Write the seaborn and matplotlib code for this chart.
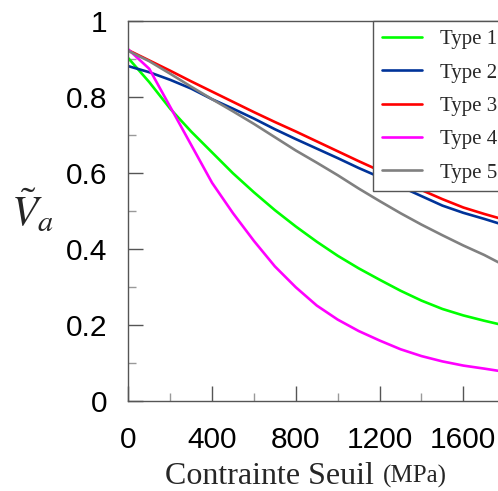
import numpy as np
import pandas as pd
import matplotlib
matplotlib.use("Agg")
import matplotlib.pyplot as plt
from matplotlib.ticker import MultipleLocator
import seaborn as sns

# seuil (MPa)
seuil = [0, 100, 200, 300, 400, 500, 600, 700, 800, 900,
         1000, 1100, 1200, 1300, 1400, 1500, 1600, 1700, 1770]

type1 = [0.903, 0.84, 0.77, 0.71, 0.655, 0.6, 0.55, 0.503, 0.46, 0.42,
         0.383, 0.35, 0.32, 0.291, 0.265, 0.243, 0.226, 0.212, 0.203]
type2 = [0.882, 0.866, 0.846, 0.823, 0.795, 0.77, 0.744, 0.716, 0.69, 0.665,
         0.64, 0.614, 0.59, 0.565, 0.54, 0.515, 0.496, 0.48, 0.468]
type3 = [0.924, 0.897, 0.87, 0.842, 0.815, 0.788, 0.761, 0.735, 0.71, 0.684,
         0.658, 0.632, 0.607, 0.581, 0.556, 0.532, 0.51, 0.493, 0.482]
type4 = [0.926, 0.875, 0.775, 0.675, 0.575, 0.495, 0.422, 0.355, 0.30, 0.252,
         0.215, 0.185, 0.16, 0.137, 0.119, 0.105, 0.094, 0.086, 0.08]
type5 = [0.922, 0.895, 0.862, 0.828, 0.795, 0.763, 0.73, 0.695, 0.66, 0.628,
         0.595, 0.56, 0.527, 0.495, 0.465, 0.437, 0.41, 0.385, 0.365]

labels = ["Type 1", "Type 2", "Type 3", "Type 4", "Type 5"]
colors = ["#00FF00", "#003399", "#FF0000", "#FF00FF", "#808080"]

df = pd.concat([
    pd.DataFrame({"seuil": seuil, "Va": v, "Type": lab})
    for v, lab in zip([type1, type2, type3, type4, type5], labels)
])

sns.set_style("white")
plt.rcParams["font.family"] = ["Liberation Sans", "DejaVu Sans"]
plt.rcParams["mathtext.fontset"] = "stix"

fig = plt.figure(figsize=(4.98, 4.91), dpi=100)
W, H = 498, 491
x0, y0 = 128.3, 401.3          # pixel position of (0, 0)
px_per_mpa = 0.2094
xmax = 1800
ax = fig.add_axes([x0 / W, (H - y0) / H, xmax * px_per_mpa / W, 380 / H])

sns.lineplot(data=df, x="seuil", y="Va", hue="Type", palette=dict(zip(labels, colors)),
             linewidth=1.9, ax=ax, legend=False)

ax.set_xlim(0, xmax)
ax.set_ylim(0, 1)
ax.xaxis.set_minor_locator(MultipleLocator(200))
ax.yaxis.set_minor_locator(MultipleLocator(0.1))
ax.set_yticks([0, 0.2, 0.4, 0.6, 0.8, 1.0], ["0", "0.2", "0.4", "0.6", "0.8", "1"])
ax.set_xticks([0, 400, 800, 1200, 1600])

ax.tick_params(which="major", direction="in", length=11, width=1, color="#555555",
               labelsize=21.5, labelcolor="black")
ax.tick_params(which="minor", direction="in", length=6, width=1, color="#999999")
ax.tick_params(axis="x", which="both", pad=18, bottom=True)
ax.tick_params(axis="y", which="both", pad=15, left=True)
for s in ["left", "bottom", "top"]:
    ax.spines[s].set_color("#555555")
    ax.spines[s].set_linewidth(1)
ax.spines["right"].set_visible(False)
ax.set_xlabel("")
ax.set_ylabel("")

fig.text(33 / W, (H - 212) / H, r"$\tilde{V}_a$", fontsize=31, ha="center", va="center")
fig.text(165 / W, (H - 484) / H, "Contrainte Seuil", fontsize=23,
         family="Liberation Serif", ha="left", va="baseline")
fig.text(383 / W, (H - 483) / H, "(MPa)", fontsize=18,
         family="Liberation Serif", ha="left", va="baseline")

handles = [plt.Line2D([], [], color=c, linewidth=1.9) for c in colors]
leg = fig.legend(handles, labels, loc="upper left",
                 bbox_to_anchor=(373 / W, (H - 21) / H),
                 prop={"family": "Liberation Serif", "size": 15},
                 frameon=True, fancybox=False, framealpha=1, edgecolor="#555555",
                 handlelength=1.92, handletextpad=0.87, labelspacing=0.66,
                 borderpad=0.42, borderaxespad=0)
leg.get_frame().set_linewidth(1)

plt.savefig("out.png", dpi=100)
plt.close()
